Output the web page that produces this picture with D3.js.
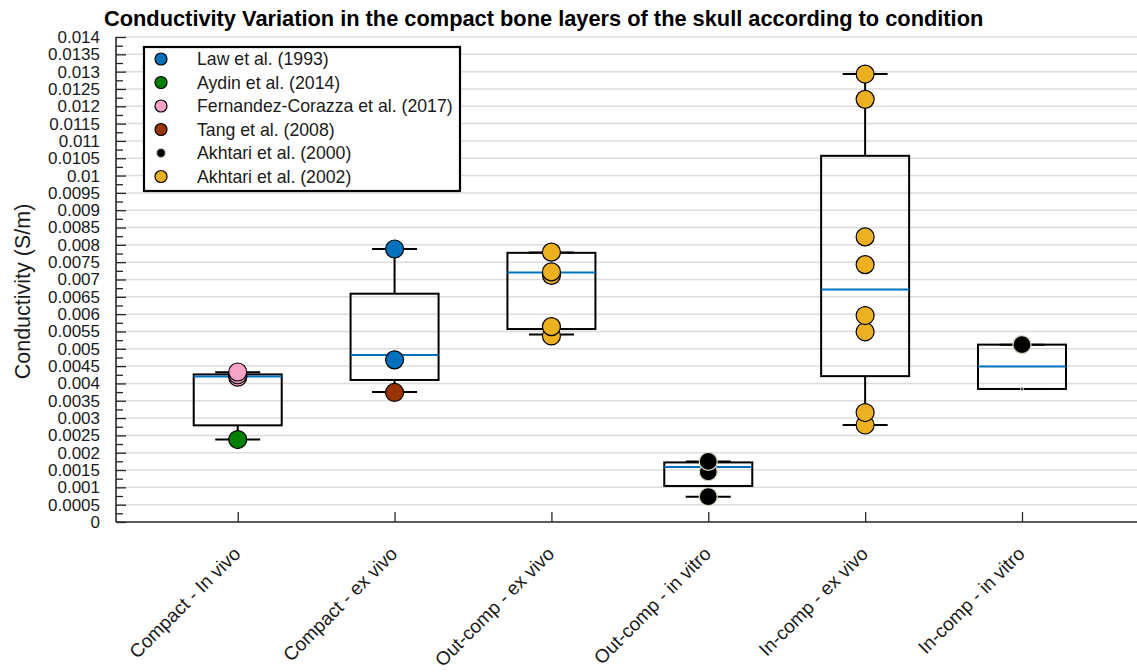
<!DOCTYPE html>
<html>
<head>
<meta charset="utf-8">
<script src="https://cdn.jsdelivr.net/npm/d3@7"></script>
<style>
  html, body { margin: 0; padding: 0; background: #ffffff; }
  svg { display: block; font-family: "Liberation Sans", Arial, Helvetica, sans-serif; }
</style>
</head>
<body>
<svg id="chart" width="1137" height="672"></svg>
<script>
// Conditions along the x axis
const categories = [
  "Compact - In vivo",
  "Compact - ex vivo",
  "Out-comp - ex vivo",
  "Out-comp - in vitro",
  "In-comp - ex vivo",
  "In-comp - in vitro"
];

// Box statistics per condition (S/m)
const whiskerLow  = [0.00238, 0.00375, 0.00541, 0.00073, 0.00280, 0.00384];
const quartile1   = [0.00279, 0.00410, 0.00557, 0.00104, 0.00421, 0.00384];
const medians     = [0.00420, 0.00482, 0.00720, 0.00159, 0.00671, 0.00449];
const quartile3   = [0.00426, 0.00659, 0.00777, 0.00172, 0.01057, 0.00512];
const whiskerHigh = [0.00432, 0.00788, 0.00778, 0.00175, 0.01293, 0.00512];

// Individual measurements per study: [condition index, conductivity]
const law1993 = [[1, 0.00468], [1, 0.00788]];
const aydin2014 = [[0, 0.00238]];
const fernandezCorazza2017 = [[0, 0.00418], [0, 0.00425], [0, 0.00433]];
const tang2008 = [[1, 0.00374]];
const akhtari2000 = [[3, 0.00073], [3, 0.00145], [3, 0.00175], [5, 0.00512]];
const akhtari2000Small = [[5, 0.00384]];
const akhtari2002 = [
  [2, 0.00537], [2, 0.00564], [2, 0.00712], [2, 0.00722], [2, 0.00779],
  [4, 0.00280], [4, 0.00316], [4, 0.00549], [4, 0.00596], [4, 0.00743],
  [4, 0.00823], [4, 0.01220], [4, 0.01293]
];

const studyNames = [
  "Law et al. (1993)",
  "Aydin et al. (2014)",
  "Fernandez-Corazza et al. (2017)",
  "Tang et al. (2008)",
  "Akhtari et al. (2000)",
  "Akhtari et al. (2002)"
];

// Y tick values (S/m)
const yTicks = [0, 0.0005, 0.001, 0.0015, 0.002, 0.0025, 0.003, 0.0035, 0.004,
  0.0045, 0.005, 0.0055, 0.006, 0.0065, 0.007, 0.0075, 0.008, 0.0085, 0.009,
  0.0095, 0.01, 0.0105, 0.011, 0.0115, 0.012, 0.0125, 0.013, 0.0135, 0.014];
const yMinorTicks = [0.00025, 0.00075, 0.00125, 0.00175, 0.00225, 0.00275,
  0.00325, 0.00375, 0.00425, 0.00475, 0.00525, 0.00575, 0.00625, 0.00675,
  0.00725, 0.00775, 0.00825, 0.00875, 0.00925, 0.00975, 0.01025, 0.01075,
  0.01125, 0.01175, 0.01225, 0.01275, 0.01325, 0.01375];

const titleText = "Conductivity Variation in the compact bone layers of the skull according to condition";
const yLabelText = "Conductivity (S/m)";

// ---- layout ----
const svg = d3.select("#chart");
const plot = { left: 116, right: 1143.7, top: 37, bottom: 522 };
const axisColor = "#262626";
const font = "\"Liberation Sans\", Arial, Helvetica, sans-serif";

const x = d3.scaleLinear().domain([0.224, 6.776]).range([plot.left, plot.right]);
const y = d3.scaleLinear().domain([0, 0.014]).range([plot.bottom, plot.top]);
const cx = i => x(i + 1);

const boxHalf = 44;
const capHalf = 22.5;

// grid lines
svg.append("g")
  .selectAll("line")
  .data(yTicks.slice(1))
  .join("line")
  .attr("x1", plot.left).attr("x2", 1137)
  .attr("y1", d => y(d)).attr("y2", d => y(d))
  .attr("stroke", "#dcdcdc").attr("stroke-width", 1.5);

// y axis: ticks pointing into the plot, labels on the left
const yAxis = d3.axisRight(y)
  .tickValues(yTicks)
  .tickSize(10)
  .tickFormat(d => String(+d.toFixed(5)));
const yAxisG = svg.append("g").attr("transform", `translate(${plot.left},0)`).call(yAxis);
yAxisG.select(".domain").remove();
yAxisG.selectAll(".tick line").attr("stroke", axisColor).attr("stroke-width", 1.3);
yAxisG.selectAll(".tick text")
  .attr("x", -16).attr("text-anchor", "end")
  .attr("font-family", font).attr("font-size", 17).attr("fill", "#1a1a1a");

const yMinor = d3.axisRight(y).tickValues(yMinorTicks).tickSize(7).tickFormat("");
const yMinorG = svg.append("g").attr("transform", `translate(${plot.left},0)`).call(yMinor);
yMinorG.select(".domain").remove();
yMinorG.selectAll(".tick line").attr("stroke", axisColor).attr("stroke-width", 1.3);

svg.append("line")
  .attr("x1", plot.left).attr("x2", plot.left)
  .attr("y1", plot.top).attr("y2", plot.bottom)
  .attr("stroke", axisColor).attr("stroke-width", 1.6);

// x axis with inward ticks and rotated labels
const xAxis = d3.axisTop(x)
  .tickValues(categories.map((c, i) => i + 1))
  .tickSize(10)
  .tickFormat("");
const xAxisG = svg.append("g").attr("transform", `translate(0,${plot.bottom})`).call(xAxis);
xAxisG.select(".domain").remove();
xAxisG.selectAll(".tick line").attr("stroke", axisColor).attr("stroke-width", 1.3);

svg.append("line")
  .attr("x1", plot.left).attr("x2", 1137)
  .attr("y1", plot.bottom).attr("y2", plot.bottom)
  .attr("stroke", axisColor).attr("stroke-width", 1.6);

svg.append("g")
  .selectAll("text")
  .data(categories)
  .join("text")
  .attr("transform", (d, i) => `translate(${cx(i) + 4},${plot.bottom + 33}) rotate(-45)`)
  .attr("text-anchor", "end")
  .attr("font-family", font).attr("font-size", 19).attr("fill", "#1a1a1a")
  .text(d => d);

// boxes
const boxes = svg.append("g");
categories.forEach((c, i) => {
  const g = boxes.append("g");
  const xc = cx(i);
  // whiskers
  g.append("line").attr("x1", xc).attr("x2", xc)
    .attr("y1", y(quartile3[i])).attr("y2", y(whiskerHigh[i]))
    .attr("stroke", "#000").attr("stroke-width", 2);
  g.append("line").attr("x1", xc).attr("x2", xc)
    .attr("y1", y(quartile1[i])).attr("y2", y(whiskerLow[i]))
    .attr("stroke", "#000").attr("stroke-width", 2);
  // caps
  [whiskerHigh[i], whiskerLow[i]].forEach(v => {
    g.append("line").attr("x1", xc - capHalf).attr("x2", xc + capHalf)
      .attr("y1", y(v)).attr("y2", y(v))
      .attr("stroke", "#000").attr("stroke-width", 2);
  });
  // box
  g.append("rect")
    .attr("x", xc - boxHalf).attr("width", boxHalf * 2)
    .attr("y", y(quartile3[i])).attr("height", y(quartile1[i]) - y(quartile3[i]))
    .attr("fill", "none").attr("stroke", "#000").attr("stroke-width", 2);
  // median
  g.append("line").attr("x1", xc - boxHalf).attr("x2", xc + boxHalf)
    .attr("y1", y(medians[i])).attr("y2", y(medians[i]))
    .attr("stroke", "#0072BD").attr("stroke-width", 2);
});

// study markers
const studies = [
  { name: studyNames[0], data: law1993, fill: "#0072BD", stroke: "#000", r: 9, legendR: 6 },
  { name: studyNames[1], data: aydin2014, fill: "#007F00", stroke: "#000", r: 9, legendR: 6 },
  { name: studyNames[2], data: fernandezCorazza2017, fill: "#F7A3C8", stroke: "#000", r: 9, legendR: 6 },
  { name: studyNames[3], data: tang2008, fill: "#993300", stroke: "#000", r: 9, legendR: 6 },
  { name: studyNames[4], data: akhtari2000, fill: "#000000", stroke: "#d9d4c8", r: 9, legendR: 4.5 },
  { name: studyNames[5], data: akhtari2002, fill: "#EDB120", stroke: "#000", r: 9, legendR: 6 }
];

const marks = svg.append("g");
studies.forEach(s => {
  marks.append("g")
    .selectAll("circle")
    .data(s.data)
    .join("circle")
    .attr("cx", d => cx(d[0]))
    .attr("cy", d => y(d[1]))
    .attr("r", s.r)
    .attr("fill", s.fill)
    .attr("stroke", s.stroke)
    .attr("stroke-width", 1.2);
});
marks.append("g")
  .selectAll("circle")
  .data(akhtari2000Small)
  .join("circle")
  .attr("cx", d => cx(d[0]))
  .attr("cy", d => y(d[1]))
  .attr("r", 1.6)
  .attr("fill", "#333")
  .attr("stroke", "#d9d4c8")
  .attr("stroke-width", 0.8);

// legend
const legend = svg.append("g").attr("transform", "translate(144,47)");
legend.append("rect")
  .attr("width", 316).attr("height", 144)
  .attr("fill", "#fff").attr("stroke", "#000").attr("stroke-width", 2.2);
const rows = legend.selectAll("g.row")
  .data(studies)
  .join("g")
  .attr("class", "row")
  .attr("transform", (d, i) => `translate(0,${12 + i * 23.5})`);
rows.append("circle")
  .attr("cx", 17).attr("cy", 0)
  .attr("r", d => d.legendR)
  .attr("fill", d => d.fill)
  .attr("stroke", d => d.stroke)
  .attr("stroke-width", 1.2);
rows.append("text")
  .attr("x", 53).attr("y", 0).attr("dy", "0.35em")
  .attr("font-family", font).attr("font-size", 17.7).attr("fill", "#1a1a1a")
  .text(d => d.name);

// title
svg.append("text")
  .attr("x", 104).attr("y", 26)
  .attr("font-family", font).attr("font-size", 21.8).attr("font-weight", "bold")
  .attr("fill", "#000")
  .text(titleText);

// y axis label
svg.append("text")
  .attr("transform", `translate(30,${(plot.top + plot.bottom) / 2 + 12}) rotate(-90)`)
  .attr("text-anchor", "middle")
  .attr("font-family", font).attr("font-size", 21.5).attr("fill", "#1a1a1a")
  .text(yLabelText);
</script>
</body>
</html>
